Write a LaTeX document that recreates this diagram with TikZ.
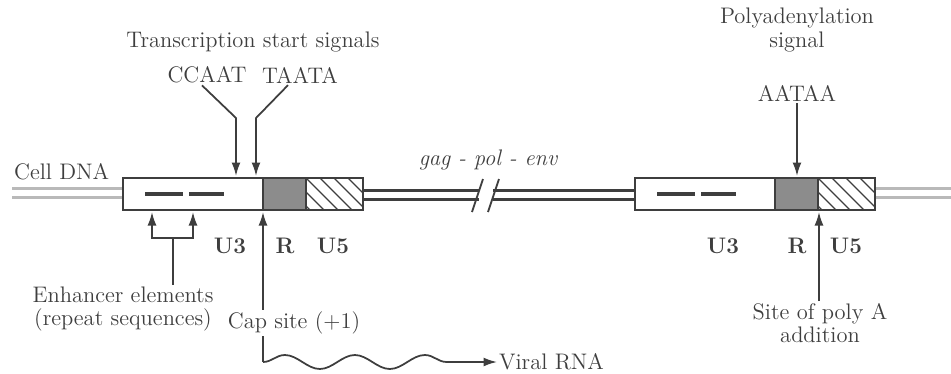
\documentclass[tikz,border=0pt]{standalone}
\usepackage{tikz}
\usetikzlibrary{arrows.meta,positioning,decorations.pathmorphing,calc}
\definecolor{encre}{RGB}{62,62,62}
\definecolor{brin}{RGB}{185,185,185}
\definecolor{zoner}{RGB}{140,140,140}
\tikzset{
  fleche/.style={encre,line width=1pt,-{Latex[length=2.7mm,width=1.8mm]}},
  trait/.style={encre,line width=1pt},
  etiq/.style={text=encre,font=\fontsize{12.8}{14}\selectfont,inner sep=1pt},
  seg/.style={etiq,font=\fontsize{12.8}{14}\selectfont\bfseries},
}
\newcommand{\ltr}[1]{%
  \fill[zoner] (#1+140,178) rectangle (#1+183,210);
  \begin{scope}
    \clip (#1+183,178) rectangle (#1+240,210);
    \foreach \hh in {0,14,...,84}{\draw[encre,line width=0.7pt](#1+155+\hh,178)--(#1+187+\hh,210);}
  \end{scope}
  \draw[encre,line width=1.3pt] (#1,178) rectangle (#1+240,210);
  \draw[encre,line width=1.3pt] (#1+140,178)--(#1+140,210) (#1+183,178)--(#1+183,210);
  \draw[encre,line width=1.8pt] (#1+22,194)--(#1+60,194) (#1+66,194)--(#1+101,194);}

\begin{document}
\begin{tikzpicture}[x=0.02cm,y=-0.02cm]
  \useasboundingbox (0,0) rectangle (951,373);
  % ADN cellulaire
  \draw[brin,line width=1.8pt,double=white,double distance=3.2pt](12,193)--(123,193);
  \draw[brin,line width=1.8pt,double=white,double distance=3.2pt](876,193)--(951,193);
  % provirus
  \draw[encre,line width=1.4pt,double=white,double distance=3.6pt](363,195)--(479,195);
  \draw[encre,line width=1.4pt,double=white,double distance=3.6pt](493,195)--(635,195);
  \draw[trait](472,212)--(483,179) (488,212)--(499,179);
  \ltr{123}
  \ltr{635}
  % textes
  \node[etiq,anchor=west] (celldna) at (12,172) {Cell DNA};
  \node[etiq] (titre) at (253,42) {Transcription start signals};
  \node[etiq] (ccaat) at (207,75) {CCAAT};
  \node[etiq] (taata) at (300,75) {TAATA};
  \node[etiq,align=center] (polya) at (797,30) {Polyadenylation\\signal};
  \node[etiq] (aataa) at (797,93) {AATAA};
  \node[etiq,font=\fontsize{12.8}{14}\selectfont\itshape] (gag) at (488,160) {gag - pol - env};
  \node[seg] (u3a) at (230,246) {U3};
  \node[seg] (ra) at (285,246) {R};
  \node[seg] (u5a) at (333,246) {U5};
  \node[seg] (u3b) at (723,246) {U3};
  \node[seg] (rb) at (797,246) {R};
  \node[seg] (u5b) at (846,246) {U5};
  \node[etiq,align=center,font=\fontsize{12.8}{13.2}\selectfont] (enh) at (123,309) {Enhancer elements\\(repeat sequences)};
  \node[etiq] (cap) at (294,323) {Cap site (+1)};
  \node[etiq,anchor=west] (viral) at (497,362) {Viral RNA};
  \node[etiq,align=center,font=\fontsize{12.8}{13.2}\selectfont] (site) at (820,323) {Site of poly A\\addition};
  % bouts des fleches
  \coordinate (ccpli) at (236,118); \coordinate (ccbout) at (236,176);
  \coordinate (tapli) at (256,118); \coordinate (tabout) at (256,176);
  \coordinate (aabout) at (797,176);
  \coordinate (capbout) at (263,212);
  \coordinate (sitebout) at (819,212);
  \coordinate (enha) at (152,212); \coordinate (enhb) at (193,212);
  \coordinate (crochet) at (173,238);
  \coordinate (onde) at (263,362);
  \draw[fleche] ([xshift=-0.1cm]ccaat.south) -- (ccpli) -- (ccbout);
  \draw[fleche] ([xshift=-0.24cm]taata.south) -- (tapli) -- (tabout);
  \draw[fleche] (aataa.south) -- (aabout);
  \draw[fleche] (cap.north -| capbout) -- (capbout);
  \draw[fleche] (site.north -| sitebout) -- (sitebout);
  \draw[trait] (enh.north -| crochet) -- (crochet);
  \draw[fleche] (crochet) -| (enha);
  \draw[fleche] (crochet) -| (enhb);
  \draw[trait] (cap.south -| onde) -- (onde);
  \draw[fleche,decorate,decoration={snake,segment length=1.4cm,amplitude=0.14cm,post length=0.5cm}] (onde) -- (viral.west);
\end{tikzpicture}
\end{document}
